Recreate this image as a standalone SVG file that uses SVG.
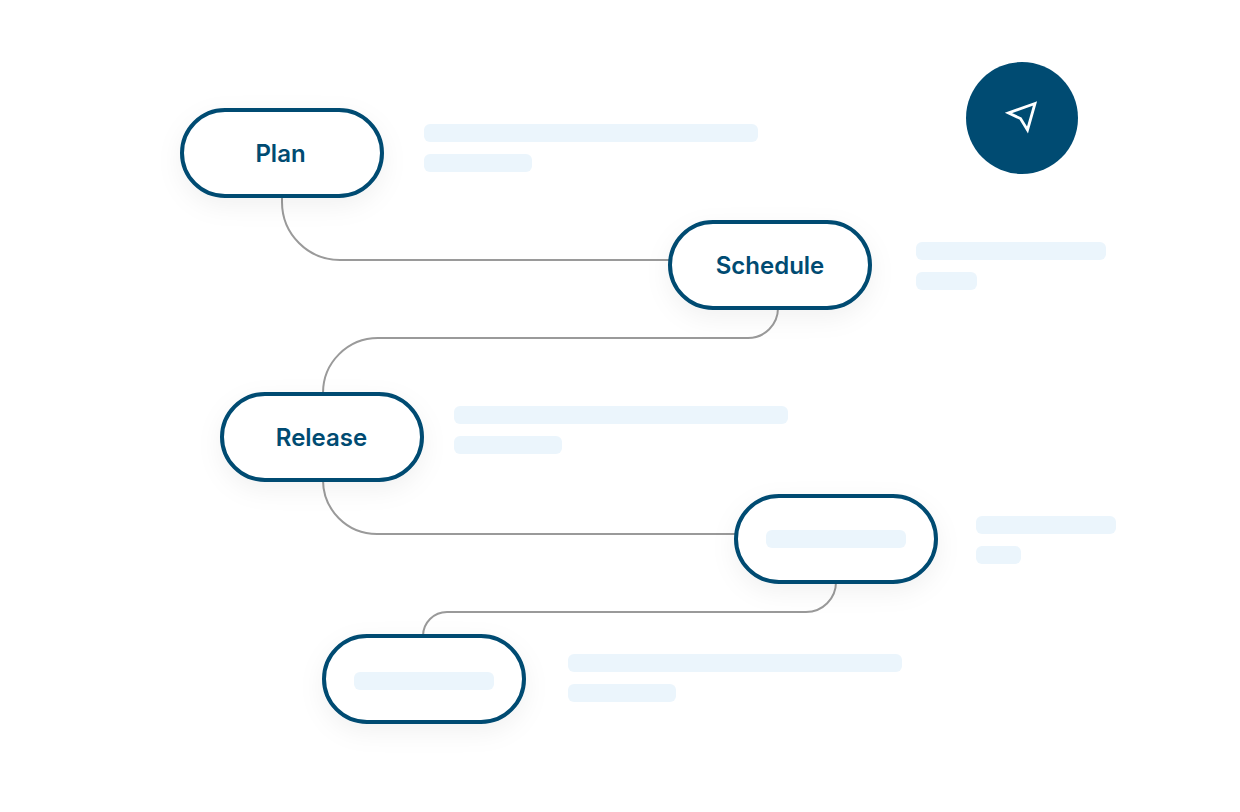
<svg xmlns="http://www.w3.org/2000/svg" width="1240" height="812" viewBox="0 0 1240 812">
<defs>
<filter id="sh" x="-30%" y="-60%" width="160%" height="240%"><feDropShadow dx="0" dy="8" stdDeviation="12" flood-color="#000" flood-opacity="0.055"/></filter>
</defs>
<style>
.n{fill:#fff;stroke:#004b72;stroke-width:4;filter:url(#sh)}
.b{fill:#ebf5fc}
.c{fill:none;stroke:#9a9a9a;stroke-width:2}
text{font-family:Inter,"Liberation Sans",sans-serif;font-size:24px;font-weight:600;fill:#004b72;text-anchor:middle}
</style>
<rect width="1240" height="812" fill="#fff"/>
<g id="connectors">
<path class="c" d="M282 196V202A58 58 0 0 0 340 260H670"/>
<path class="c" d="M778 308A30 30 0 0 1 748 338H378A55 55 0 0 0 323 393V394"/>
<path class="c" d="M323 480A54 54 0 0 0 377 534H736"/>
<path class="c" d="M836 582A30 30 0 0 1 806 612H447A24 24 0 0 0 423 636"/>
</g>
<g id="plan"><rect class="n" x="182" y="110" width="200" height="86" rx="43"/><text x="280.500" y="162">Plan</text></g>
<g id="plan-bars"><rect class="b" x="424" y="124" width="334" height="18" rx="6"/><rect class="b" x="424" y="154" width="108" height="18" rx="6"/></g>
<g id="schedule"><rect class="n" x="670" y="222" width="200" height="86" rx="43"/><text x="770" y="274">Schedule</text></g>
<g id="schedule-bars"><rect class="b" x="916" y="242" width="190" height="18" rx="6"/><rect class="b" x="916" y="272" width="61" height="18" rx="6"/></g>
<g id="release"><rect class="n" x="222" y="394" width="200" height="86" rx="43"/><text x="321.500" y="446">Release</text></g>
<g id="release-bars"><rect class="b" x="454" y="406" width="334" height="18" rx="6"/><rect class="b" x="454" y="436" width="108" height="18" rx="6"/></g>
<g id="node-4"><rect class="n" x="736" y="496" width="200" height="86" rx="43"/><rect class="b" x="766" y="530" width="140" height="18" rx="6"/></g>
<g id="node-4-bars"><rect class="b" x="976" y="516" width="140" height="18" rx="6"/><rect class="b" x="976" y="546" width="45" height="18" rx="6"/></g>
<g id="node-5"><rect class="n" x="324" y="636" width="200" height="86" rx="43"/><rect class="b" x="354" y="672" width="140" height="18" rx="6"/></g>
<g id="node-5-bars"><rect class="b" x="568" y="654" width="334" height="18" rx="6"/><rect class="b" x="568" y="684" width="108" height="18" rx="6"/></g>
<g id="icon"><circle cx="1022" cy="118" r="56" fill="#004b72"/><path d="M1035 103.500L1008.500 113L1020.500 118.500L1027.500 130Z" fill="none" stroke="#fff" stroke-width="2.800" stroke-linejoin="miter"/></g>
</svg>
